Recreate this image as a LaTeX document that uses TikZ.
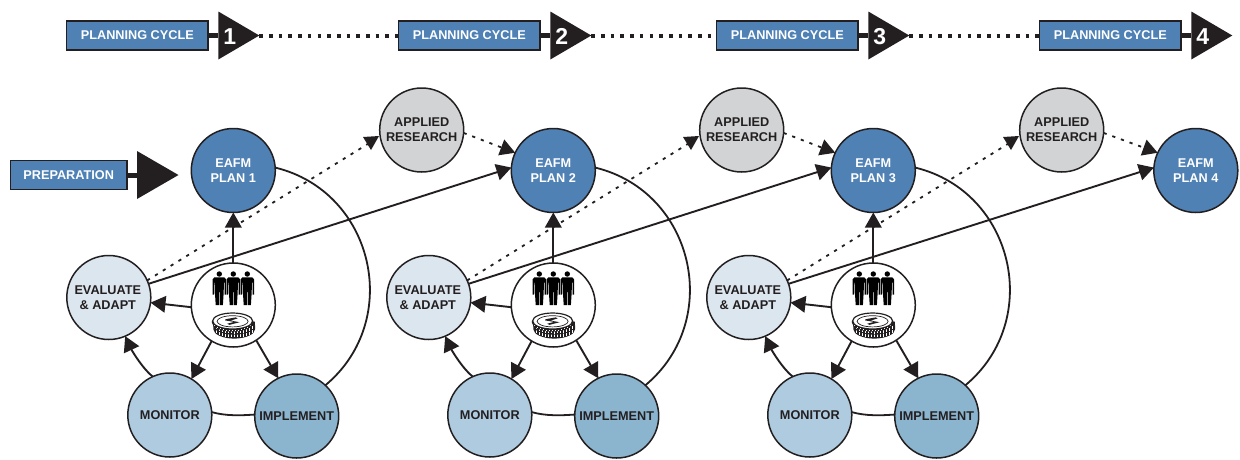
\documentclass[tikz,border=0pt]{standalone}
\usepackage{fontspec}
\setmainfont{Liberation Sans}
\usetikzlibrary{arrows.meta}
\definecolor{inkdark}{HTML}{231F20}
\definecolor{planblue}{HTML}{4F81B4}
\definecolor{resgrey}{HTML}{D1D3D4}
\definecolor{evalfill}{HTML}{DCE6EE}
\definecolor{monfill}{HTML}{AECBDF}
\definecolor{impfill}{HTML}{8BB4CF}
\newcommand{\coinband}[3]{%
  \fill[inkdark] (#1-20.8,#2) -- (#1-20.8,#2+#3) .. controls (#1-20.8,#2+#3+5) and (#1-11,#2+#3+9.2) .. (#1,#2+#3+9.2)
     .. controls (#1+11,#2+#3+9.2) and (#1+20.8,#2+#3+5) .. (#1+20.8,#2+#3) -- (#1+20.8,#2) -- cycle;
  \foreach \sx in {-18,-15,...,18.1}{
    \draw[white,line width=1pt] ({#1+\sx},{#2+8*sqrt(1-(\sx/20)^2)+.9}) -- ++(0,{#3-.9});
  }
}
\tikzset{
  x=1pt,y=-1pt,
  lbl/.style={font=\fontsize{12.7}{15.4}\selectfont\bfseries,align=center,text=inkdark},
  bar/.style={rectangle,draw=inkdark,line width=1.4pt,fill=planblue,inner sep=0pt,outer sep=0pt,
     minimum height=29pt,text=white,font=\fontsize{12.7}{15}\selectfont\bfseries},
  disc/.style={circle,draw=inkdark,line width=1.5pt,minimum size=84pt,inner sep=0pt,outer sep=0pt,lbl},
  plannode/.style={disc,fill=planblue,text=white},
  resnode/.style={disc,fill=resgrey},
  evalnode/.style={disc,fill=evalfill},
  monnode/.style={disc,fill=monfill},
  impnode/.style={disc,fill=impfill},
  hubnode/.style={disc,fill=white},
  digit/.style={text=white,inner sep=0pt,font=\fontsize{23}{23}\selectfont\bfseries},
  link/.style={draw=inkdark,line width=1.9pt,-{Triangle[length=15pt,width=16.5pt]}},
  plainlink/.style={draw=inkdark,line width=1.8pt},
  dotlink/.style={draw=inkdark,line width=1.8pt,dash pattern=on 3.2pt off 6pt},
  dotarrow/.style={dotlink,-{Triangle[length=15pt,width=16.5pt]}},
  stem/.style={draw=inkdark,line width=5pt},
  cycledots/.style={draw=inkdark,line width=4pt,dash pattern=on 3.6pt off 6.1pt},
  people/.pic={
    \foreach \px in {-14,0,14}{
      \fill[black] (\px,-31) circle[radius=2.7pt];
      \fill[black,shift={(\px,-31)}] (-5,3.4) -- (5,3.4) -- (6.8,5.4) -- (6.8,20.5) -- (5.2,20.5) -- (5.2,8.5) -- (4.6,8.5) -- (4.4,18)
        -- (3.6,31) -- (.4,31) -- (.4,18) -- (-.4,18) -- (-.4,31) -- (-3.6,31) -- (-4.4,18) -- (-4.6,8.5) -- (-5.2,8.5) -- (-5.2,20.5)
        -- (-6.8,20.5) -- (-6.8,5.4) -- cycle;
    }
  },
  coins/.pic={
    \coinband{1.6}{4.4}{4}
    \coinband{1.4}{.6}{3.9}
    \coinband{0}{0}{1.5}
    \draw[inkdark,fill=white,line width=1.2pt] (0,0) ellipse[x radius=20pt,y radius=8pt];
    \draw[inkdark,line width=.7pt] (0,.3) ellipse[x radius=15.5pt,y radius=5.6pt];
    \fill[inkdark] (-7,-1.8) -- (3,-3.6) -- (5,-2.6) -- (-2,-.4) -- (7,1.2) -- (-3,3.8) -- (-5.5,2.8) -- (1.5,.9) -- (-7.5,-.6) -- cycle;
  },
}
\begin{document}
\begin{tikzpicture}
\useasboundingbox (0,0) rectangle (1240,459);
% top row
\foreach \c/\bx in {1/137.3,2/469.3,3/787.3,4/1110.3}{
  \node[bar,minimum width=141.5pt] (cyc\c) at (\bx,35.5) {PLANNING CYCLE};
  \coordinate (base\c) at (\bx+81,35.5);
  \coordinate (tip\c) at (\bx+122,35.5);
  \draw[stem] (cyc\c.east) -- (base\c);
  \fill[inkdark] (base\c) ++(0,-24) -- ++(41,24) -- ++(-41,24) -- cycle;
  \node[digit] (num\c) at (\bx+92.5,36.5) {\c};
}
\foreach \c/\d in {1/2,2/3,3/4}{
  \draw[cycledots] (tip\c) -- (cyc\d.west);
}
% preparation
\node[bar,minimum width=116.5pt] (prep) at (68.7,175) {PREPARATION};
\coordinate (prepbase) at (137,175);
\draw[stem] (prep.east) -- (prepbase);
\fill[inkdark] (prepbase) ++(0,-24) -- ++(41.5,24) -- ++(-41.5,24) -- cycle;
% plans
\node[plannode] (plan1) at (233.3,170.5) {EAFM\\PLAN 1};
\node[plannode] (plan2) at (553.3,170.5) {EAFM\\PLAN 2};
\node[plannode] (plan3) at (873.3,170.5) {EAFM\\PLAN 3};
\node[plannode] (plan4) at (1195.8,170.5) {EAFM\\PLAN 4};
% cycles
\foreach \c/\d/\dx in {1/2/0,2/3/320,3/4/640}{
  \node[resnode] (res\c) at (421.7+\dx,130) {\raisebox{1pt}{APPLIED}\\\raisebox{1pt}{RESEARCH}};
  \node[evalnode] (eval\c) at (108.8+\dx,297.5) {\raisebox{-1pt}{EVALUATE\hspace{2pt}}\\\raisebox{-1pt}{\& ADAPT\hspace{2pt}}};
  \node[monnode] (mon\c) at (169.8+\dx,415) {MONITOR};
  \node[impnode] (imp\c) at (296.7+\dx,416) {IMPLEMENT};
  \node[hubnode] (hub\c) at (233.3+\dx,305) {};
  \pic at (233.3+\dx,305) {people};
  \pic at (232.6+\dx,321) {coins};
  % cycle arcs
  \draw[plainlink] (plan\c.4.6) .. controls +(99,24) and +(78,-65) .. (imp\c.47.4);
  \draw[plainlink] (mon\c.4) .. controls +(14,4) and +(-14,1) .. (imp\c.178);
  \draw[link] (mon\c.114.5) .. controls +(-10,-8) and +(7,15) .. (eval\c.-67.7);
  % hub arrows
  \draw[link] (hub\c.north) -- (plan\c.south);
  \draw[link] (hub\c.183) -- (eval\c.-7);
  \draw[link] (hub\c.239.6) -- (mon\c.59.7);
  \draw[link] (hub\c.-57.4) -- (imp\c.116.8);
  % long arrows
  \draw[link] (eval\c.19.4) -- (plan\d.176.6);
  \coordinate (mark\c) at ([shift={(-50.7,12)}]res\c.center);
  \draw[dotlink] (eval\c.24) -- (mark\c);
  \fill[inkdark] ([shift={(-58.7,7)}]res\c.center) -- ([shift={(-42.7,6)}]res\c.center) -- ([shift={(-50.7,20)}]res\c.center) -- cycle;
  \draw[dotarrow] (res\c.-4) -- (plan\d.155.8);
}
\end{tikzpicture}
\end{document}
